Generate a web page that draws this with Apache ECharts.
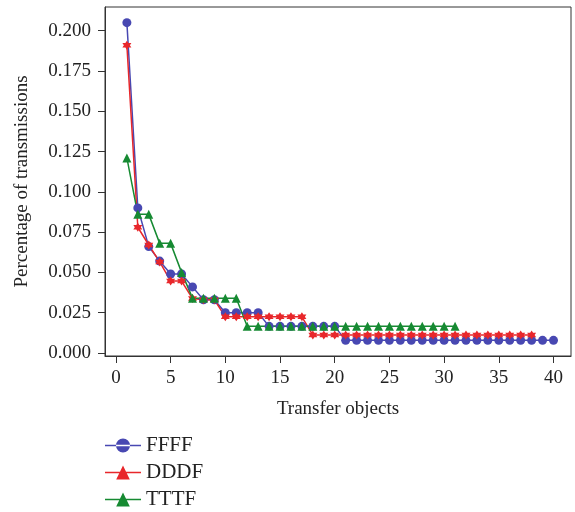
<!DOCTYPE html>
<html>
<head>
<meta charset="utf-8">
<script src="https://cdn.jsdelivr.net/npm/echarts@6/dist/echarts.min.js"></script>
<style>html,body{margin:0;padding:0;background:#fff}#c{width:575px;height:512px}</style>
</head>
<body>
<div id="c"></div>
<script>
const xFFFF = [1,2,3,4,5,6,7,8,9,10,11,12,13,14,15,16,17,18,19,20,21,22,23,24,25,26,27,28,29,30,31,32,33,34,35,36,37,38,39,40];
const yFFFF = [0.205,0.090,0.066,0.057,0.049,0.049,0.041,0.033,0.033,0.025,0.025,0.025,0.025,0.0165,0.0165,0.0165,0.0165,0.0165,0.0165,0.0165,0.0078,0.0078,0.0078,0.0078,0.0078,0.0078,0.0078,0.0078,0.0078,0.0078,0.0078,0.0078,0.0078,0.0078,0.0078,0.0078,0.0078,0.0078,0.0078,0.0078];
const xDDDF = [1,2,3,4,5,6,7,8,9,10,11,12,13,14,15,16,17,18,19,20,21,22,23,24,25,26,27,28,29,30,31,32,33,34,35,36,37,38];
const yDDDF = [0.191,0.078,0.067,0.0565,0.0446,0.0446,0.0338,0.033,0.033,0.0224,0.0224,0.0224,0.0224,0.0224,0.0224,0.0224,0.0224,0.0111,0.0111,0.0111,0.0111,0.0111,0.0111,0.0111,0.0111,0.0111,0.0111,0.0111,0.0111,0.0111,0.0111,0.0111,0.0111,0.0111,0.0111,0.0111,0.0111,0.0111];
const xTTTF = [1,2,3,4,5,6,7,8,9,10,11,12,13,14,15,16,17,18,19,20,21,22,23,24,25,26,27,28,29,30,31];
const yTTTF = [0.121,0.086,0.086,0.068,0.068,0.050,0.034,0.034,0.034,0.034,0.034,0.0165,0.0165,0.0165,0.0165,0.0165,0.0165,0.0165,0.0165,0.0165,0.0165,0.0165,0.0165,0.0165,0.0165,0.0165,0.0165,0.0165,0.0165,0.0165,0.0165];
const xTicks = [0,5,10,15,20,25,30,35,40];
const yTicks = [0,0.025,0.05,0.075,0.1,0.125,0.15,0.175,0.2];
const seriesNames = ['FFFF','DDDF','TTTF'];

const pair = (xs, ys) => xs.map((x, i) => [x, ys[i]]);
const font = 'Liberation Serif';
const cBlue = '#4848b2', cRed = '#e8272b', cGreen = '#168a32';
const hexagram = 'path://M50 0 L64.43 25 L93.3 25 L78.87 50 L93.3 75 L64.43 75 L50 100 L35.57 75 L6.7 75 L21.13 50 L6.7 25 L35.57 25 Z';
const iconLine = 'M0 63 L360 63 L360 77 L0 77 Z ';
const iconCircle = 'path://' + iconLine + 'M110 70 A70 70 0 1 0 250 70 A70 70 0 1 0 110 70 Z';
const iconTri = 'path://' + iconLine + 'M112 140 L180 0 L248 140 Z';

const chart = echarts.init(document.getElementById('c'), null, {renderer: 'canvas'});
chart.setOption({
  animation: false,
  grid: {left: 105, right: 4, top: 7, bottom: 156, show: true, borderColor: '#333', borderWidth: 1, backgroundColor: 'transparent'},
  xAxis: {
    type: 'value', min: -1, max: 41.6,
    name: 'Transfer objects', nameLocation: 'middle', nameGap: 44,
    nameTextStyle: {fontFamily: font, fontSize: 19, color: '#222'},
    axisLine: {show: true, onZero: false, lineStyle: {color: '#333', width: 1}},
    axisTick: {show: true, customValues: xTicks, length: 7, lineStyle: {color: '#333'}},
    axisLabel: {customValues: xTicks, fontFamily: font, fontSize: 19, color: '#222', margin: 13},
    splitLine: {show: false}
  },
  yAxis: {
    type: 'value', min: -0.0019, max: 0.2147,
    name: 'Percentage of transmissions', nameLocation: 'middle', nameGap: 73, nameRotate: 90,
    nameTextStyle: {fontFamily: font, fontSize: 19, color: '#222'},
    axisLine: {show: true, onZero: false, lineStyle: {color: '#333', width: 1}},
    axisTick: {show: true, customValues: yTicks, length: 7, lineStyle: {color: '#333'}},
    axisLabel: {customValues: yTicks, fontFamily: font, fontSize: 19, color: '#222', margin: 14,
      formatter: v => v.toFixed(3)},
    splitLine: {show: false}
  },
  legend: {
    orient: 'vertical', left: 105, top: 435, height: 80, padding: 0, itemWidth: 36, itemHeight: 14, itemGap: 6, itemTextGap: 6,
    textStyle: {fontFamily: font, fontSize: 21, color: '#222'},
    data: [
      {name: seriesNames[0], icon: iconCircle},
      {name: seriesNames[1], icon: iconTri},
      {name: seriesNames[2], icon: iconTri}
    ]
  },
  series: [
    {name: seriesNames[0], type: 'line', data: pair(xFFFF, yFFFF), symbol: 'circle', symbolSize: 9,
     itemStyle: {color: cBlue}, lineStyle: {color: cBlue, width: 1.5}},
    {name: seriesNames[1], type: 'line', data: pair(xDDDF, yDDDF), symbol: hexagram, symbolSize: 9,
     itemStyle: {color: cRed}, lineStyle: {color: cRed, width: 1.5}},
    {name: seriesNames[2], type: 'line', data: pair(xTTTF, yTTTF), symbol: 'triangle', symbolSize: 9,
     itemStyle: {color: cGreen}, lineStyle: {color: cGreen, width: 1.5}}
  ]
});
</script>
</body>
</html>
